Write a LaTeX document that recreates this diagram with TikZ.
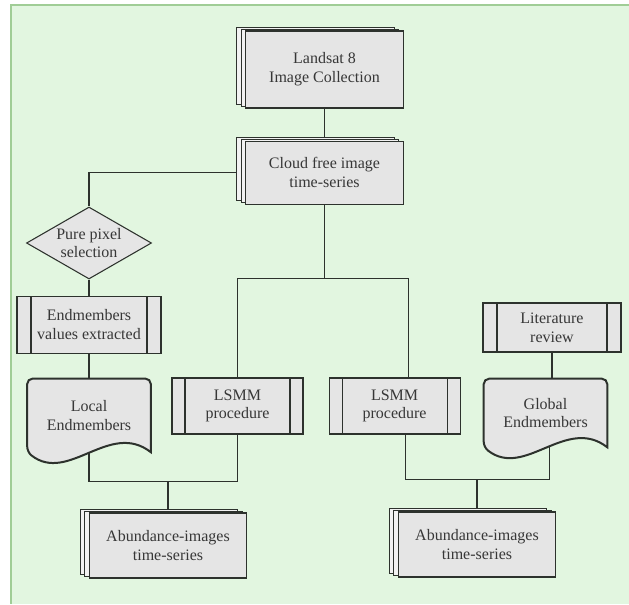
\documentclass[tikz,border=0pt]{standalone}
\usepackage{fontspec}
\setmainfont{Liberation Serif}
\newfontfamily\boxfont{Liberation Serif}
\usetikzlibrary{positioning,calc,shapes.geometric,shadows}

\definecolor{bggreen}{RGB}{226,246,224}
\definecolor{bgedge}{RGB}{160,205,150}
\definecolor{boxgray}{RGB}{229,229,229}
\definecolor{linegray}{RGB}{45,50,45}
\definecolor{textgray}{RGB}{55,55,55}

\pgfdeclarelayer{bg}
\pgfdeclarelayer{links}
\pgfsetlayers{bg,links,main}

\tikzset{
  base/.style={draw=linegray, fill=boxgray, text=textgray, align=center,
    inner sep=0pt, font=\boxfont\fontsize{12}{14}\selectfont},
  stackbox/.style={base, rectangle, line width=0.9pt, minimum width=118pt,
    copy shadow={shadow xshift=-6.8pt, shadow yshift=3pt, line width=0.6pt, fill=boxgray!50!white},
    copy shadow={shadow xshift=-3.4pt, shadow yshift=1.5pt, line width=0.6pt, fill=boxgray!50!white}},
  procbox/.style={base, rectangle, line width=0.8pt, path picture={
    \draw[linegray, line width=0.8pt]
      ([xshift=#1]path picture bounding box.south west) -- ([xshift=#1]path picture bounding box.north west)
      ([xshift=-#1]path picture bounding box.south east) -- ([xshift=-#1]path picture bounding box.north east);}},
  procbox/.default=10.5pt,
  decision/.style={base, diamond, aspect=1.7, line width=0.8pt,
    minimum width=93.75pt, minimum height=54pt},
  docbox/.style={base, draw=none, fill=none, minimum width=92.25pt},
  link/.style={draw=linegray, line width=0.9pt}
}

% document shape with wavy bottom
\newcommand{\docshape}[1]{%
  \filldraw[draw=linegray, fill=boxgray, line width=1.5pt]
    (#1.south west)
    .. controls ($(#1.south west)!.333!(#1.south east)+(0,-24pt)$)
    and ($(#1.south east)!.333!(#1.south west)+(0,24pt)$) .. (#1.south east)
    [rounded corners=4pt] -- (#1.north east) -- (#1.north west) -- cycle;}

\begin{document}
\begin{tikzpicture}[x=0.75pt, y=-0.75pt]
\useasboundingbox (0,0) rectangle (629,604);
\begin{pgfonlayer}{bg}
\fill[bggreen] (11,5) rectangle (629,604);
\draw[bgedge, line width=1pt] (629,5) -- (11,5) -- (11,604);
\end{pgfonlayer}

\node (land) [stackbox, minimum height=57.75pt] at (324.5,69.5) {Landsat 8\\Image Collection};
\node (cloud) [stackbox, below=24pt of land, minimum height=47.25pt] {Cloud free image\\time-series};

\node (pure) [decision] at (89,243) {Pure pixel\\selection};
\node (extr) [procbox, below=12pt of pure, minimum width=108pt, minimum height=42.75pt] {Endmembers\\values extracted};
\node (local) [docbox, below=18.75pt of extr, minimum height=54.75pt] {Local\\Endmembers};

\node (lsmmA) [procbox=9.75pt, minimum width=98.25pt, minimum height=42pt] at (237.5,406) {LSMM\\procedure};
\node (lsmmB) [procbox=9.75pt, right=18.75pt of lsmmA, minimum width=98.25pt, minimum height=42pt] {LSMM\\procedure};

\node (lit) [procbox, minimum width=103.5pt, minimum height=36.75pt] at (552,327.5) {Literature\\review};
\node (glob) [docbox, minimum height=51pt] at (545.5,413) {Global\\Endmembers};

\node (abA) [stackbox, minimum height=48.75pt] at (168,545.5) {Abundance-images\\time-series};
\node (abB) [stackbox, minimum height=48.75pt] at (477,544.5) {Abundance-images\\time-series};

\coordinate (split) at ([yshift=-55.5pt]cloud.south);
\coordinate (joinA) at ([yshift=23.25pt]abA.north);
\coordinate (joinB) at ([yshift=24pt]abB.north);

\begin{pgfonlayer}{links}
\draw[link] (land) -- (cloud);
\draw[link] (cloud.west) -| (pure.north);
\draw[link] (pure.south) -- (pure.south |- extr.north);
\draw[link] (extr.south) -- (extr.south |- local.north);
\draw[link] (cloud.south) -- (split);
\draw[link] (lsmmA.north) |- (split) -| ([xshift=10.5pt]lsmmB.north);
\draw[link] (local.south) |- (joinA) -| (lsmmA.south);
\draw[link] (joinA) -- (abA.north);
\draw[link] ([xshift=8pt]lsmmB.south) |- (joinB) -| ([xshift=3pt]glob.south);
\draw[link] (joinB) -- (abB.north);
\draw[link] (lit.south) -- (lit.south |- glob.north);
\docshape{local}
\docshape{glob}
\end{pgfonlayer}
\end{tikzpicture}
\end{document}
